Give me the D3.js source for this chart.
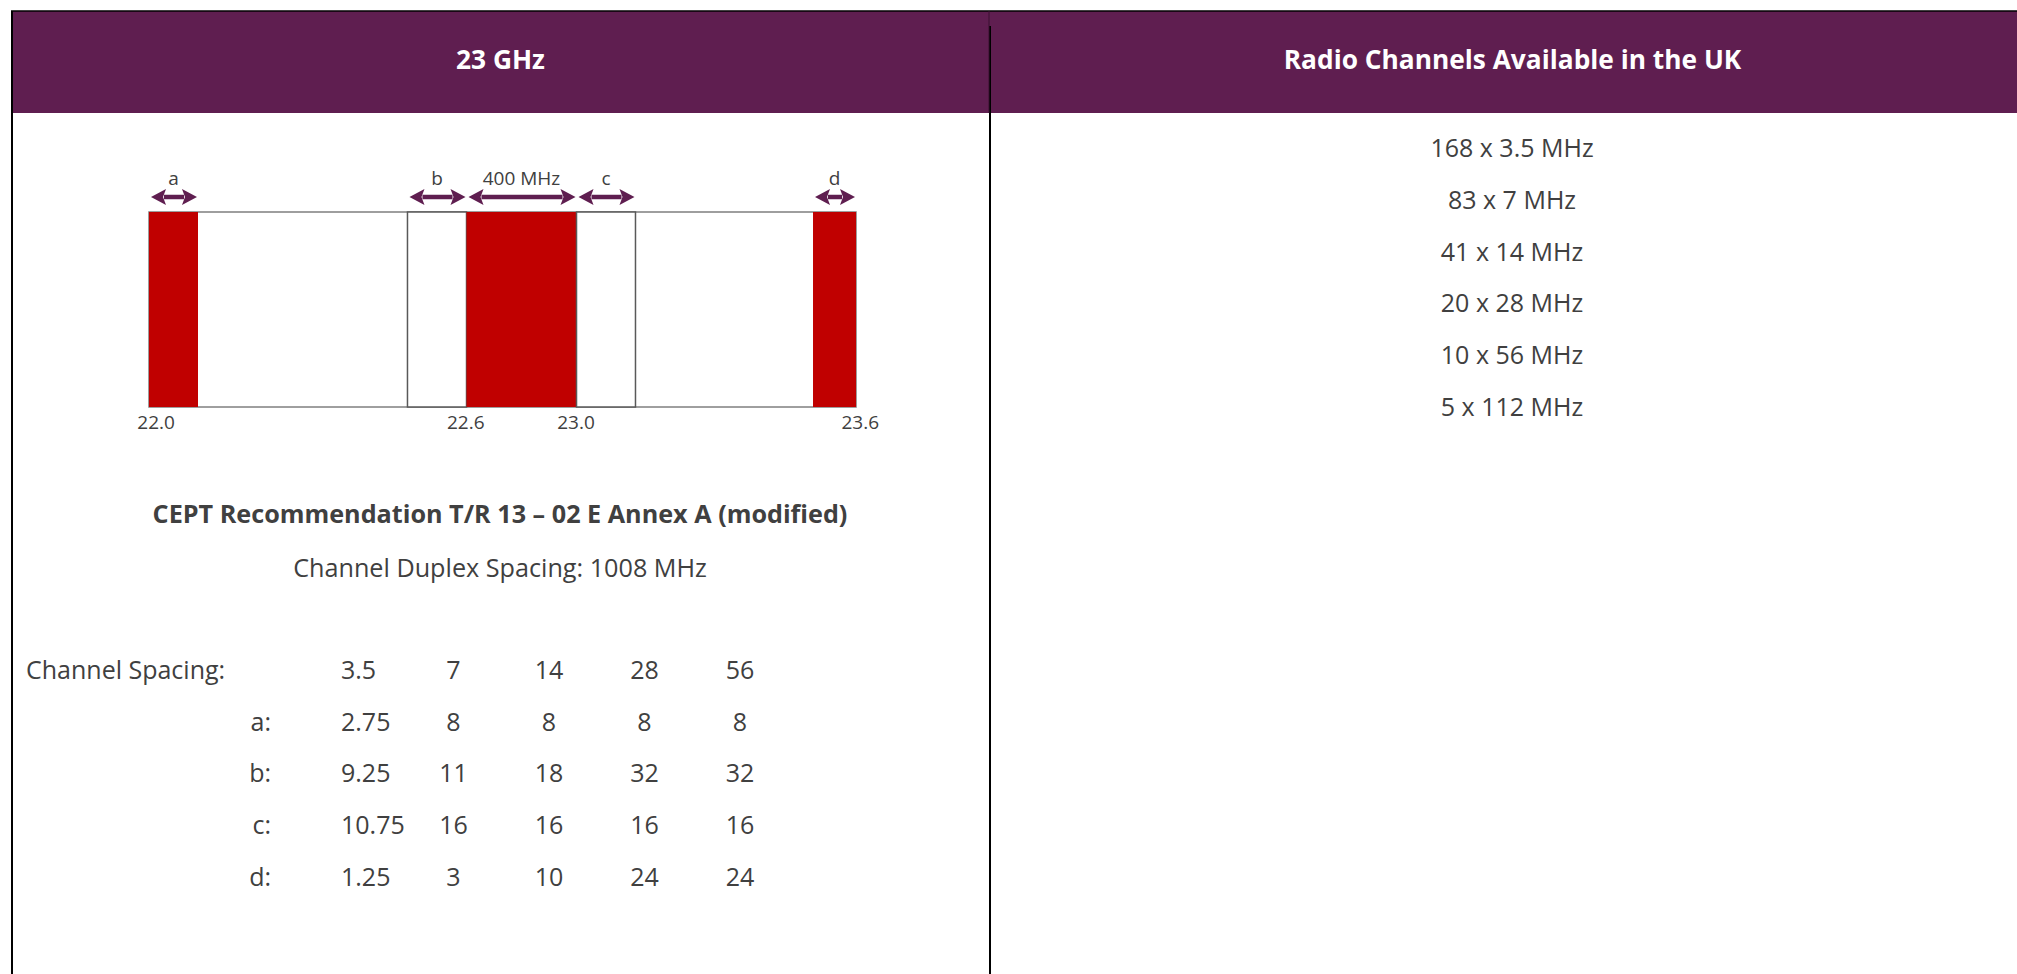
<!DOCTYPE html>
<html>
<head>
<meta charset="utf-8">
<script src="https://cdn.jsdelivr.net/npm/d3@7"></script>
<style>
  html, body { margin: 0; padding: 0; background: #fff; overflow: hidden; }
  svg { display: block; }
  text { font-family: "Open Sans", "Noto Sans", sans-serif; }
</style>
</head>
<body>
<svg id="chart" width="2017" height="974"></svg>
<script>
// ---------------- DATA ----------------
const headers = ["23 GHz", "Radio Channels Available in the UK"];

// schematic band plan, positions in % of the drawn band (22.0 .. 23.6 GHz)
const segments = [
  { key: "a",       start: 0,     end: 6.93,  kind: "guard" },
  { key: "b",       start: 36.56, end: 44.91, kind: "box" },
  { key: "400 MHz", start: 44.91, end: 60.47, kind: "guard" },
  { key: "c",       start: 60.47, end: 68.81, kind: "box" },
  { key: "d",       start: 93.92, end: 100,   kind: "guard" }
];
const freqTicks = [
  { label: "22.0", at: 1.0 },
  { label: "22.6", at: 44.8 },
  { label: "23.0", at: 60.4 },
  { label: "23.6", at: 100.6 }
];

const recommendation = "CEPT Recommendation T/R 13 \u2013 02 E Annex A (modified)";
const duplexSpacing = "Channel Duplex Spacing: 1008 MHz";

const spacingLabel = "Channel Spacing:";
const channelSpacings = ["3.5", "7", "14", "28", "56"];
const rowKeys = ["a:", "b:", "c:", "d:"];
const valuesA = ["2.75", "8", "8", "8", "8"];
const valuesB = ["9.25", "11", "18", "32", "32"];
const valuesC = ["10.75", "16", "16", "16", "16"];
const valuesD = ["1.25", "3", "10", "24", "24"];

const ukChannels = ["168 x 3.5 MHz", "83 x 7 MHz", "41 x 14 MHz", "20 x 28 MHz", "10 x 56 MHz", "5 x 112 MHz"];

// ---------------- STYLE / LAYOUT ----------------
const W = 2017, H = 974;
const purple = "#5f1e50";
const red = "#c00000";
const textCol = "#404040";
const tableLeft = 11, tableTop = 11, divX = 990, tableRight = 2035, headBottom = 113;

const svg = d3.select("#chart");

// header band
svg.append("rect").attr("x", tableLeft).attr("y", tableTop)
  .attr("width", tableRight - tableLeft).attr("height", headBottom - tableTop)
  .attr("fill", purple);

// borders
const border = svg.append("g").attr("stroke", "#000").attr("fill", "none");
border.append("line").attr("x1", tableLeft).attr("x2", W).attr("y1", tableTop).attr("y2", tableTop).attr("stroke-width", 1.5);
border.append("line").attr("x1", tableLeft + 1).attr("x2", tableLeft + 1).attr("y1", tableTop).attr("y2", H).attr("stroke-width", 2);
border.append("line").attr("x1", divX).attr("x2", divX).attr("y1", tableTop + 15).attr("y2", H).attr("stroke-width", 2);
border.append("line").attr("x1", divX - 1).attr("x2", divX - 1).attr("y1", tableTop).attr("y2", headBottom)
  .attr("stroke", "#3a1030").attr("stroke-width", 1);

// header texts
const headX = d3.scalePoint().domain(headers).range([(tableLeft + divX) / 2, (divX + tableRight) / 2]);
svg.append("g").selectAll("text").data(headers).join("text")
  .attr("x", d => headX(d)).attr("y", 60 + 0.357 * 26)
  .attr("text-anchor", "middle").attr("fill", "#fff")
  .attr("font-size", 26.3).attr("font-weight", 700).text(d => d);

// ---------------- band diagram ----------------
const bx = d3.scaleLinear().domain([0, 100]).range([149, 856]);
const bandTop = 212, bandBottom = 407;
const diag = svg.append("g");

diag.append("rect").attr("x", bx(0)).attr("y", bandTop)
  .attr("width", bx(100) - bx(0)).attr("height", bandBottom - bandTop)
  .attr("fill", "#fff").attr("stroke", "#7f7f7f").attr("stroke-width", 1.5);

diag.selectAll("rect.seg").data(segments).join("rect").attr("class", "seg")
  .attr("x", d => bx(d.start)).attr("y", bandTop)
  .attr("width", d => bx(d.end) - bx(d.start)).attr("height", bandBottom - bandTop)
  .attr("fill", d => d.kind === "guard" ? red : "#fff")
  .attr("stroke", d => d.kind === "guard" ? "none" : "#595959")
  .attr("stroke-width", 1.5);

// arrows
const arrowY = 197, headLen = 15, headHalf = 8;
const arrows = diag.append("g").attr("fill", purple).attr("stroke", purple);
segments.forEach(d => {
  const x1 = bx(d.start) + 2, x2 = bx(d.end) - 1;
  arrows.append("line").attr("x1", x1 + headLen - 2).attr("x2", x2 - headLen + 2)
    .attr("y1", arrowY).attr("y2", arrowY).attr("stroke-width", 4.5);
  arrows.append("path").attr("stroke", "none")
    .attr("d", `M${x1},${arrowY} L${x1 + headLen},${arrowY - headHalf} L${x1 + headLen - 3},${arrowY} L${x1 + headLen},${arrowY + headHalf} Z`);
  arrows.append("path").attr("stroke", "none")
    .attr("d", `M${x2},${arrowY} L${x2 - headLen},${arrowY - headHalf} L${x2 - headLen + 3},${arrowY} L${x2 - headLen},${arrowY + headHalf} Z`);
});

diag.selectAll("text.seglabel").data(segments).join("text").attr("class", "seglabel")
  .attr("x", d => (bx(d.start) + bx(d.end)) / 2).attr("y", 185)
  .attr("text-anchor", "middle").attr("fill", textCol).attr("font-size", 19)
  .text(d => d.key);

diag.selectAll("text.tick").data(freqTicks).join("text").attr("class", "tick")
  .attr("x", d => bx(d.at)).attr("y", 429)
  .attr("text-anchor", "middle").attr("fill", textCol).attr("font-size", 19)
  .text(d => d.label);

// ---------------- captions ----------------
svg.append("text").attr("x", 500).attr("y", 514 + 0.357 * 25)
  .attr("text-anchor", "middle").attr("fill", textCol).attr("font-size", 25.2).attr("font-weight", 700)
  .text(recommendation);
svg.append("text").attr("x", 500).attr("y", 568 + 0.357 * 25)
  .attr("text-anchor", "middle").attr("fill", textCol).attr("font-size", 25.2)
  .text(duplexSpacing);

// ---------------- spacing table ----------------
const tableRows = [
  { key: spacingLabel, vals: channelSpacings },
  { key: rowKeys[0], vals: valuesA },
  { key: rowKeys[1], vals: valuesB },
  { key: rowKeys[2], vals: valuesC },
  { key: rowKeys[3], vals: valuesD }
];
const rowY = d3.scalePoint().domain(tableRows.map(r => r.key)).range([670, 877]);
const colX = d3.scalePoint().domain(d3.range(channelSpacings.length)).range([358, 740]);
const fsT = 25;
const tbl = svg.append("g").attr("fill", textCol).attr("font-size", fsT);

tableRows.forEach((r, ri) => {
  const y = rowY(r.key) + 0.357 * fsT;
  tbl.append("text")
    .attr("x", ri === 0 ? 26 : 271).attr("y", y)
    .attr("text-anchor", ri === 0 ? "start" : "end").text(r.key);
  r.vals.forEach((v, ci) => {
    tbl.append("text")
      .attr("x", ci === 0 ? colX(ci) - 17 : colX(ci)).attr("y", y)
      .attr("text-anchor", ci === 0 ? "start" : "middle").text(v);
  });
});

// ---------------- right panel ----------------
const listY = d3.scalePoint().domain(ukChannels).range([148, 407]);
svg.append("g").selectAll("text").data(ukChannels).join("text")
  .attr("x", 1512).attr("y", d => listY(d) + 0.357 * 25)
  .attr("text-anchor", "middle").attr("fill", textCol).attr("font-size", 25)
  .text(d => d);
</script>
</body>
</html>
